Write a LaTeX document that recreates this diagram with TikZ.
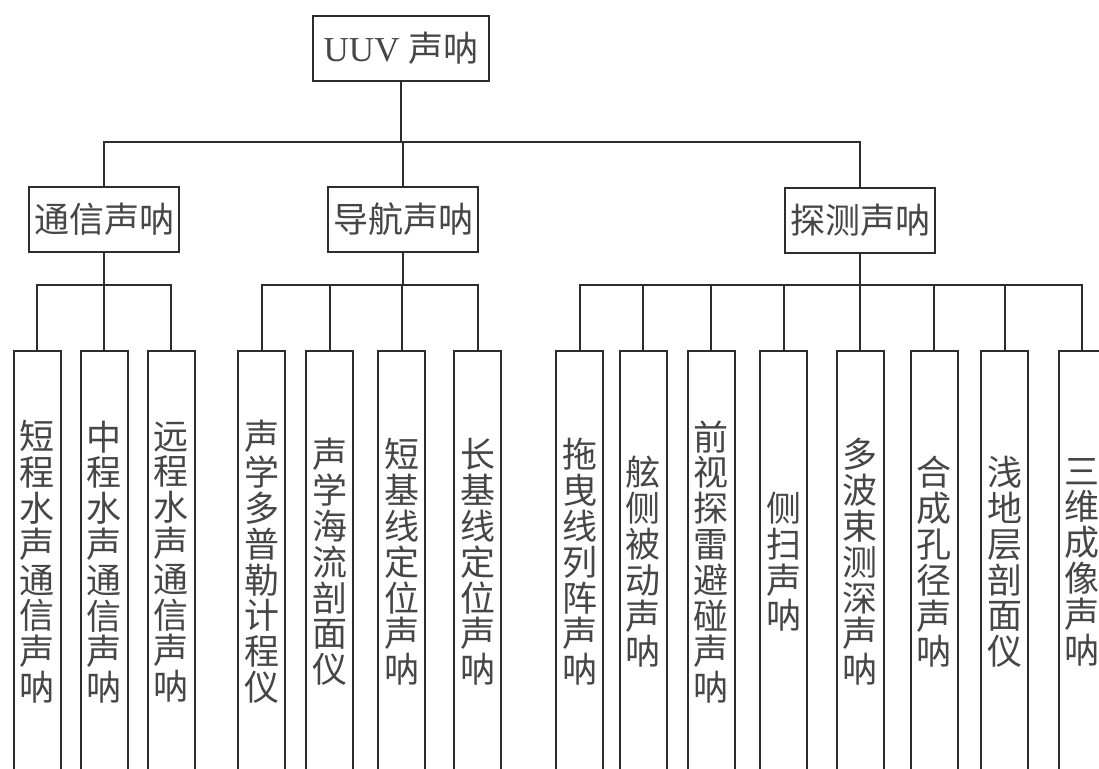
\documentclass[tikz,border=0pt]{standalone}
\usepackage{fontspec}
\setmainfont{Liberation Serif}
\newfontfamily\cjk{Noto Sans CJK SC}
\usetikzlibrary{positioning}
\definecolor{framegray}{RGB}{45,45,45}
\definecolor{textgray}{RGB}{70,70,70}

\begin{document}
\begin{tikzpicture}[
  x=0.5pt,y=-0.5pt,
  box/.style={draw=framegray,line width=1pt,fill=white,text=textgray,inner sep=2pt,align=center,font=\fontsize{17.5pt}{17.9pt}\selectfont},
  rootbox/.style={box,minimum width=88pt,minimum height=32.5pt},
  midbox/.style={box,minimum width=75pt,minimum height=32.5pt},
  leafbox/.style={box,anchor=north,minimum width=23.5pt,minimum height=211pt,text width=18pt,inner sep=0pt},
  link/.style={draw=framegray,line width=1pt}
]
\clip (0,0) rectangle (1099,769);

% level 1
\node[rootbox] (root) at (401,48.5) {UUV {\cjk 声呐}};

% level 2
\node[midbox] (comm) at (104.4,219.5) {\cjk 通信声呐};
\node[midbox] (navi) at (403,219.5) {\cjk 导航声呐};
\node[midbox] (detc) at (860.4,220.5) {\cjk 探测声呐};

\coordinate (topbus) at (0,142);
\coordinate (lowbus) at (0,285);

% level 3: communication
\node[leafbox] (c1) at (37,350)    {\cjk 短\\程\\水\\声\\通\\信\\声\\呐};
\node[leafbox] (c2) at (104,350)   {\cjk 中\\程\\水\\声\\通\\信\\声\\呐};
\node[leafbox] (c3) at (171.3,350) {\cjk 远\\程\\水\\声\\通\\信\\声\\呐};

% level 3: navigation
\node[leafbox] (n1) at (261.5,350) {\cjk 声\\学\\多\\普\\勒\\计\\程\\仪};
\node[leafbox] (n2) at (329.5,350) {\cjk 声\\学\\海\\流\\剖\\面\\仪};
\node[leafbox] (n3) at (401.5,350) {\cjk 短\\基\\线\\定\\位\\声\\呐};
\node[leafbox] (n4) at (477.5,350) {\cjk 长\\基\\线\\定\\位\\声\\呐};

% level 3: detection
\node[leafbox] (d1) at (579.5,350)  {\cjk 拖\\曳\\线\\列\\阵\\声\\呐};
\node[leafbox] (d2) at (643,350)    {\cjk 舷\\侧\\被\\动\\声\\呐};
\node[leafbox] (d3) at (711,350)    {\cjk 前\\视\\探\\雷\\避\\碰\\声\\呐};
\node[leafbox] (d4) at (783.5,350)  {\cjk 侧\\扫\\声\\呐};
\node[leafbox] (d5) at (860,350)    {\cjk 多\\波\\束\\测\\深\\声\\呐};
\node[leafbox] (d6) at (934,350)    {\cjk 合\\成\\孔\\径\\声\\呐};
\node[leafbox] (d7) at (1004.8,350) {\cjk 浅\\地\\层\\剖\\面\\仪};
\node[leafbox] (d8) at (1082,350)   {\cjk 三\\维\\成\\像\\声\\呐};

% connectors
\foreach \n in {comm,navi,detc}
  \draw[link] (root.south) |- (\n.north |- topbus) -- (\n.north);

\foreach \n in {c1,c2,c3}
  \draw[link] (comm.south) |- (\n.north |- lowbus) -- (\n.north);
\foreach \n in {n1,n2,n3,n4}
  \draw[link] (navi.south) |- (\n.north |- lowbus) -- (\n.north);
\foreach \n in {d1,d2,d3,d4,d5,d6,d7,d8}
  \draw[link] (detc.south) |- (\n.north |- lowbus) -- (\n.north);

\end{tikzpicture}
\end{document}
